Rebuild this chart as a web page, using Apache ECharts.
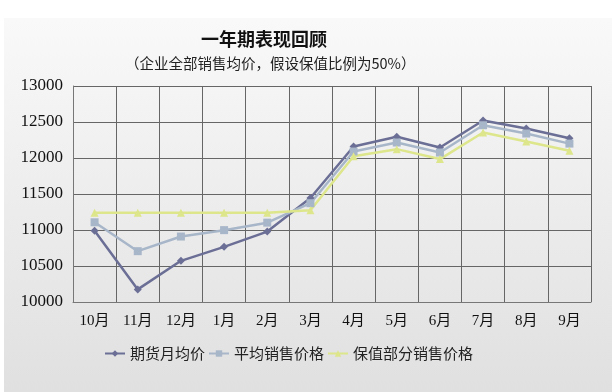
<!DOCTYPE html>
<html><head><meta charset="utf-8">
<script src="https://cdn.jsdelivr.net/npm/echarts@6/dist/echarts.min.js"></script>
<style>html,body{margin:0;padding:0;background:#fff}#c{width:612px;height:392px}</style>
</head><body><div id="c"></div>
<script>
const categories = ['10月','11月','12月','1月','2月','3月','4月','5月','6月','7月','8月','9月'];
const futuresAvg = [10990, 10175, 10572, 10766, 10978, 11444, 12159, 12294, 12146, 12520, 12409, 12275];
const avgSales   = [11107, 10706, 10909, 10998, 11102, 11372, 12090, 12215, 12076, 12455, 12340, 12200];
const hedgedSales= [11240, 11240, 11240, 11240, 11240, 11275, 12025, 12123, 11985, 12354, 12230, 12100];
const seriesNames = ['期货月均价','平均销售价格','保值部分销售价格'];
const titleText = '一年期表现回顾';
const subtitleText = '（企业全部销售均价，假设保值比例为50%）';

const chart = echarts.init(document.getElementById('c'), null, {renderer:'canvas'});
const serif = "'Liberation Serif','Noto Sans CJK SC',serif";
const cjk = "'Noto Sans CJK SC',sans-serif";
chart.setOption({
  animation:false,
  graphic:[{
    type:'rect', left:4, top:18, z:-10,
    shape:{width:608, height:374},
    style:{fill:new echarts.graphic.LinearGradient(0,0,0,1,[{offset:0,color:'#f9f9f9'},{offset:1,color:'#e0e0e0'}])}
  }],
  title:[{
    text:titleText, left:196, top:25,
    textStyle:{fontFamily:cjk, fontSize:18, fontWeight:'bold', color:'#111'}
  },{
    text:subtitleText, left:120, top:51,
    textStyle:{fontFamily:cjk, fontSize:14.5, fontWeight:'normal', color:'#222'}
  }],
  grid:{left:73, right:21, top:86, bottom:90, show:false},
  legend:{
    bottom:26, left:99, itemGap:3, itemWidth:20, itemHeight:8,
    textStyle:{fontFamily:cjk, fontSize:15, color:'#222'},
    data:seriesNames
  },
  xAxis:{
    type:'category', data:categories, boundaryGap:true,
    axisLine:{show:true, lineStyle:{color:'#777', width:1}},
    axisTick:{show:false},
    splitLine:{show:true, interval:0, lineStyle:{color:'#666', width:1}},
    axisLabel:{fontFamily:serif, fontSize:15, color:'#111', margin:12, interval:0}
  },
  yAxis:{
    type:'value', min:10000, max:13000, interval:500,
    axisLine:{show:true, lineStyle:{color:'#777'}},
    axisTick:{show:false},
    splitLine:{show:true, lineStyle:{color:'#666', width:1}},
    axisLabel:{fontFamily:serif, fontSize:17, color:'#111', margin:10, formatter:function(v){return String(v);}}
  },
  series:[
    {name:seriesNames[0], type:'line', data:futuresAvg, symbol:'diamond', symbolSize:8,
     lineStyle:{color:'#6b6e95', width:2.5}, itemStyle:{color:'#6b6e95'}},
    {name:seriesNames[1], type:'line', data:avgSales, symbol:'rect', symbolSize:8,
     lineStyle:{color:'#a8b6c9', width:2.5}, itemStyle:{color:'#a8b6c9'}},
    {name:seriesNames[2], type:'line', data:hedgedSales, symbol:'triangle', symbolSize:8,
     lineStyle:{color:'#dde68a', width:2.5}, itemStyle:{color:'#dde68a'}}
  ]
});
</script></body></html>
